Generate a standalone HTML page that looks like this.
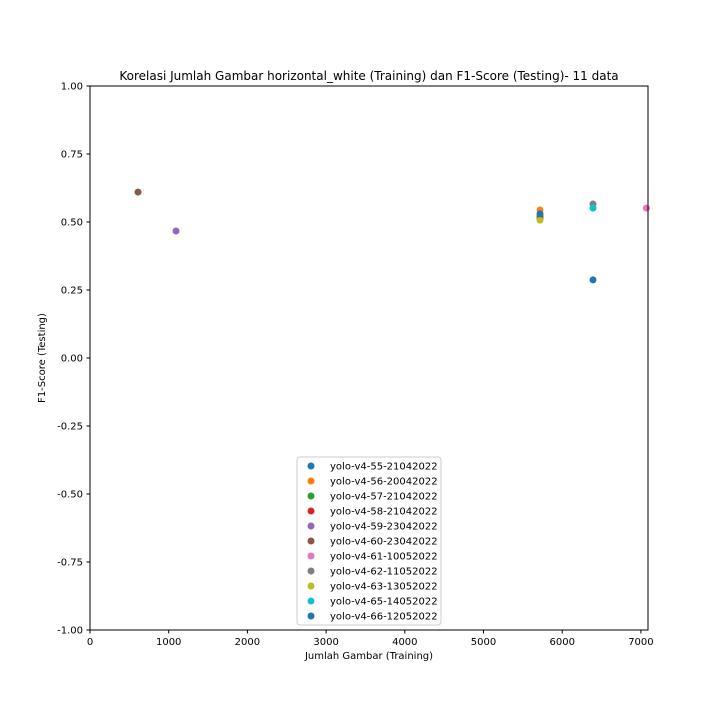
<!DOCTYPE html>
<html><head><meta charset="utf-8"><style>
body{margin:0;background:#fff;}
svg{font-family:"DejaVu Sans","Liberation Sans",sans-serif;}
</style></head><body>
<svg id="chart" width="720" height="720" viewBox="0 0 720 720" xmlns="http://www.w3.org/2000/svg">
<rect width="720" height="720" fill="#fff"/>
<text x="369" y="80" text-anchor="middle" font-size="12">Korelasi Jumlah Gambar horizontal_white (Training) dan F1-Score (Testing)- 11 data</text>
<g id="ticks"></g>
<g id="points"></g>
<rect x="90" y="86" width="558" height="544" fill="none" stroke="#000" stroke-width="1"/>
<text x="369" y="659" text-anchor="middle" font-size="10">Jumlah Gambar (Training)</text>
<text transform="translate(45,358) rotate(-90)" text-anchor="middle" font-size="10">F1-Score (Testing)</text>
<g id="legend"></g>
</svg>
<script>
const names=["yolo-v4-55-21042022","yolo-v4-56-20042022","yolo-v4-57-21042022","yolo-v4-58-21042022","yolo-v4-59-23042022","yolo-v4-60-23042022","yolo-v4-61-10052022","yolo-v4-62-11052022","yolo-v4-63-13052022","yolo-v4-65-14052022","yolo-v4-66-12052022"];
const xVals=[6391,5718,5718,5718,1093,610,7070,6391,5718,6391,5718];
const yVals=[0.287,0.544,0.522,0.515,0.467,0.610,0.551,0.566,0.507,0.551,0.530];
const colors=["#1f77b4","#ff7f0e","#2ca02c","#d62728","#9467bd","#8c564b","#e377c2","#7f7f7f","#bcbd22","#17becf","#1f77b4"];
const xTicks=[0,1000,2000,3000,4000,5000,6000,7000];
const yTicks=[-1.00,-0.75,-0.50,-0.25,0.00,0.25,0.50,0.75,1.00];
const NS="http://www.w3.org/2000/svg";
const X0=90,X1=648,XMAX=7090,Y0=630,Y1=86;
function sx(v){return X0+(v/XMAX)*(X1-X0);}
function sy(v){return Y0-(v+1)/2*(Y0-Y1);}
function mk(t,a,p){const e=document.createElementNS(NS,t);for(const k in a)e.setAttribute(k,a[k]);p.appendChild(e);return e;}
const tg=document.getElementById('ticks');
xTicks.forEach(v=>{const x=sx(v);
 const l=mk('line',{x1:x,x2:x,y1:630,y2:633.5,stroke:'#000'},tg);
 
 
 const t=mk('text',{x:x,y:645,'text-anchor':'middle','font-size':10},tg);t.textContent=v;
 
 });
yTicks.forEach(v=>{const y=sy(v);
 const l=mk('line',{x1:86.5,x2:90,y1:y,y2:y,stroke:'#000'},tg);
 
 
 const t=mk('text',{x:83,y:y+3.5,'text-anchor':'end','font-size':10},tg);t.textContent=v.toFixed(2);
 
 });
const pg=document.getElementById('points');
xVals.forEach((v,i)=>{const c=mk('circle',{cx:Math.min(sx(v),648),cy:sy(yVals[i]),r:3.5,fill:colors[i]},pg);
 
 });
const lg=document.getElementById('legend');
const box=mk('rect',{x:297,y:457,width:144,height:168,rx:3,fill:'#fff',stroke:'#ccc','fill-opacity':0.8},lg);


names.forEach((n,i)=>{const y=466+i*15;
 const c=mk('circle',{cx:311,cy:y,r:3.5,fill:colors[i]},lg);
 
 
 const t=mk('text',{x:330,y:y+3.5,'font-size':10},lg);t.textContent=n;
 
 });
</script>
</body></html>
